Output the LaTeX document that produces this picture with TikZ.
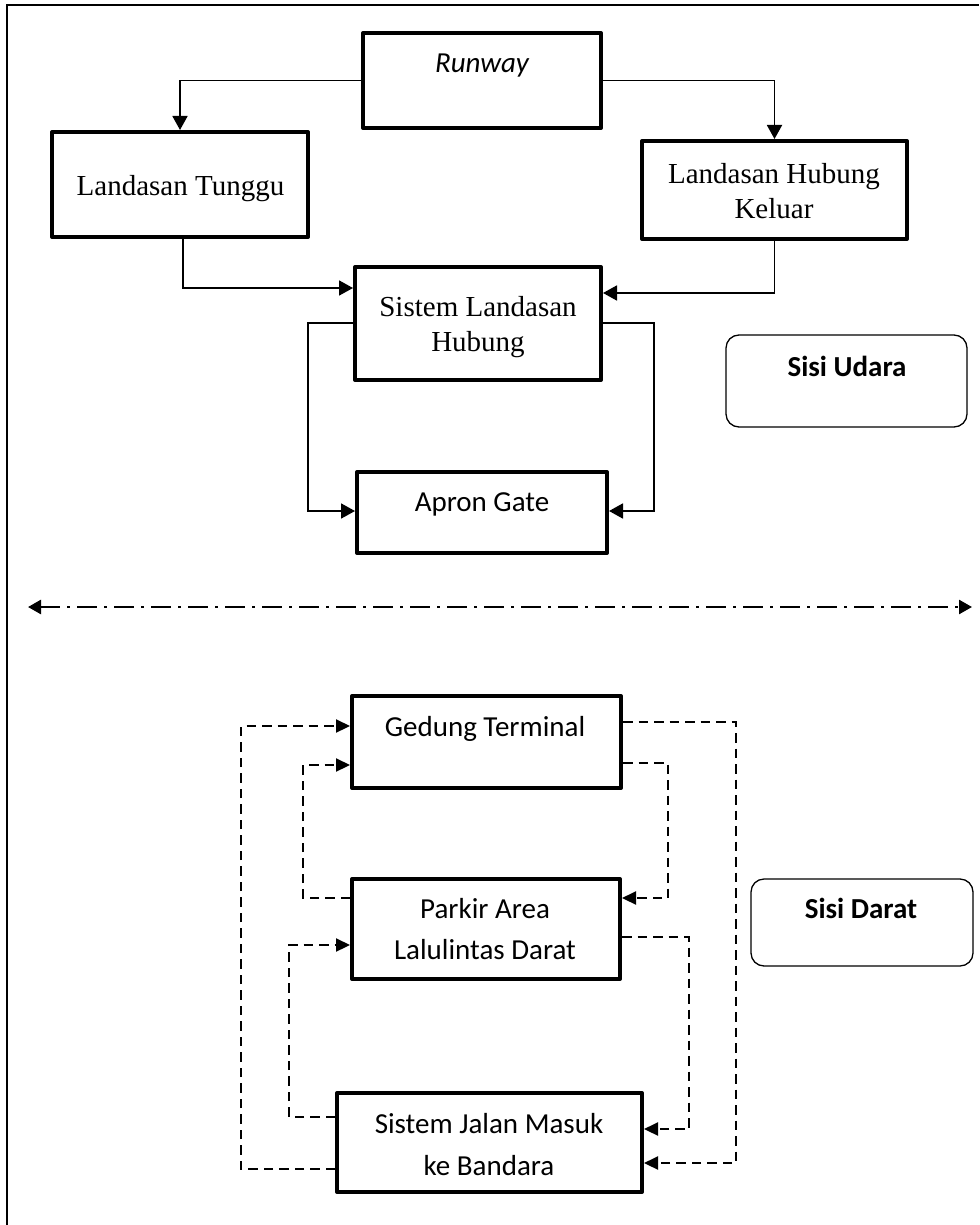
\documentclass[tikz,border=0pt]{standalone}
\usepackage{fontspec}
\setmainfont{Liberation Serif}
\newfontfamily\calfont{Carlito}
\usetikzlibrary{arrows.meta}
\begin{document}
\begin{tikzpicture}[x=1pt,y=-1pt,
  box/.style={draw, line width=4pt, line join=round, inner sep=0pt},
  tag/.style={draw, line width=1.3pt, rounded corners=13pt, inner sep=0pt},
  tms/.style={font=\fontsize{29pt}{35pt}\selectfont, inner sep=0pt, anchor=base},
  cal/.style={font=\calfont\fontsize{29pt}{35pt}\selectfont, inner sep=0pt, anchor=base},
  arr/.style={line width=1.8pt, -{Triangle[length=14pt,width=15pt]}},
  darr/.style={line width=2.2pt, dash pattern=on 9.5pt off 6pt, -{Triangle[length=14pt,width=13pt]}},
  sep/.style={line width=2.6pt, dash pattern=on 20pt off 7pt on 3pt off 7pt,
     {Triangle[length=13pt,width=14pt]}-{Triangle[length=13pt,width=14pt]}}]
\useasboundingbox (0,0) rectangle (979,1225);
% frame
\coordinate (fbl) at (7,1225);
\coordinate (ftl) at (7,5);
\coordinate (ftr) at (979,5);
\draw[line width=1.6pt] (fbl) -- (ftl) -- (ftr);

% boxes
\node[box, minimum width=238pt, minimum height=95pt] (rw) at (482,80.5) {};
\node[box, minimum width=256pt, minimum height=105pt] (lt) at (180,184.5) {};
\node[box, minimum width=265pt, minimum height=98pt] (lhk) at (774.5,190) {};
\node[box, minimum width=246pt, minimum height=113pt] (slh) at (478,323.5) {};
\node[box, minimum width=250pt, minimum height=81pt] (ag) at (482,512.5) {};
\node[box, minimum width=269pt, minimum height=92pt] (gt) at (486.5,742) {};
\node[box, minimum width=268pt, minimum height=100pt] (pa) at (486,929) {};
\node[box, minimum width=305pt, minimum height=99pt] (sj) at (489.5,1142.5) {};
\node[tag, minimum width=241pt, minimum height=92pt] (su) at (846.5,381) {};
\node[tag, minimum width=222pt, minimum height=87pt] (sd) at (862,922.5) {};

% texts
\node[cal] (rwt) at (482,73) {\itshape Runway};
\node[tms] (ltt) at (180.5,195) {Landasan Tunggu};
\node[tms] (lhkt1) at (774,183) {Landasan Hubung};
\node[tms] (lhkt2) at (774,218) {Keluar};
\node[tms] (slht1) at (478,316) {Sistem Landasan};
\node[tms] (slht2) at (478,351) {Hubung};
\node[cal] (agt) at (482,511) {Apron Gate};
\node[cal] (gtt) at (485,736) {Gedung Terminal};
\node[cal] (pat1) at (485,918) {Parkir Area};
\node[cal] (pat2) at (485,959) {Lalulintas Darat};
\node[cal] (sjt1) at (489,1133) {Sistem Jalan Masuk};
\node[cal] (sjt2) at (489,1175) {ke Bandara};
\node[cal] (sut) at (847,376) {\bfseries Sisi Udara};
\node[cal] (sdt) at (861,918) {\bfseries Sisi Darat};

% solid connectors
\draw[arr] (rw.west) -| (lt.north);
\draw[arr] (rw.east) -| (lhk.north);
\draw[arr] ([xshift=3pt]lt.south) |- (slh.west |- 0,288);
\draw[arr] (lhk.south) |- (slh.east |- 0,293);
\draw[arr] (slh.west |- 0,323) -- (308,323) |- (ag.west |- 0,511);
\draw[arr] (slh.east |- 0,323) -- (654,323) |- (ag.east |- 0,511);

% separator
\coordinate (dl) at (28,607);
\coordinate (dr) at (972,607);
\draw[sep] (dl) -- (dr);

% dashed connectors
\draw[darr] (sj.west |- 0,1169) -- (241,1169) |- (gt.west |- 0,726);
\draw[darr] (pa.west |- 0,898) -- (303,898) |- (gt.west |- 0,765);
\draw[darr] (sj.west |- 0,1117) -- (289,1117) |- (pa.west |- 0,945);
\draw[darr] (gt.east |- 0,722) -- (736,722) |- (sj.east |- 0,1163);
\draw[darr] (gt.east |- 0,763) -- (668,763) |- (pa.east |- 0,898);
\draw[darr] (pa.east |- 0,937) -- (689,937) |- (sj.east |- 0,1129);
\end{tikzpicture}
\end{document}
